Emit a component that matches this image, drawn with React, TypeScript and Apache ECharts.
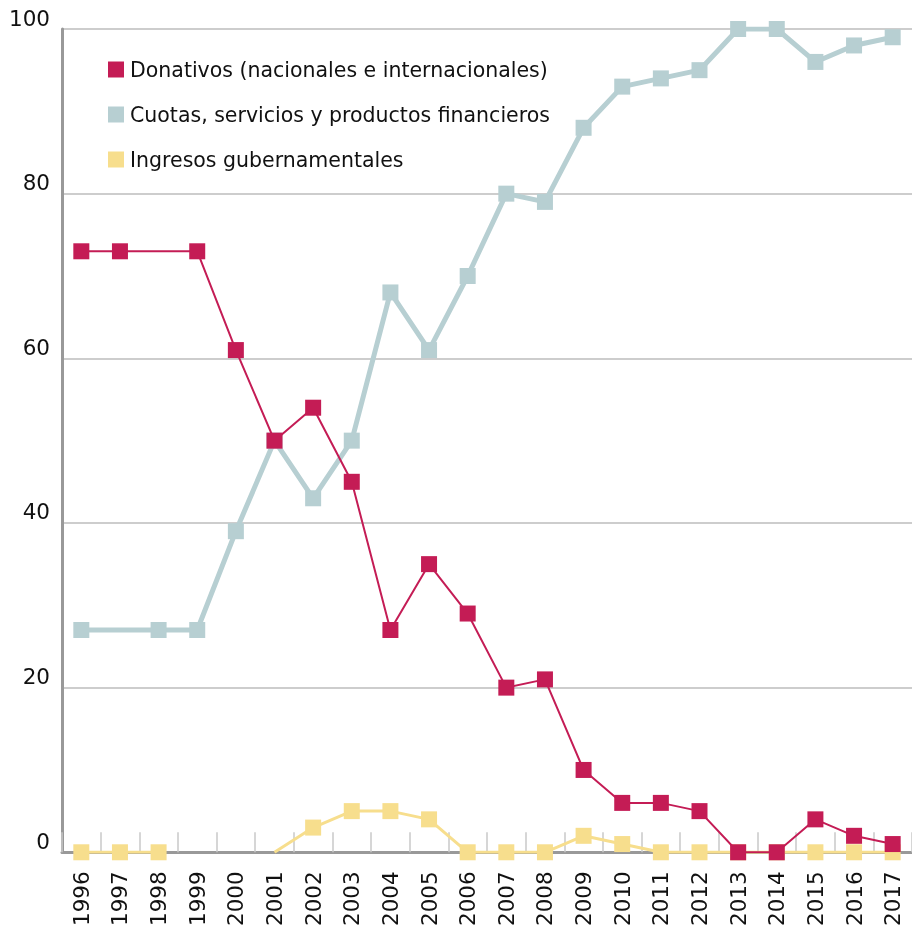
import React, { useEffect, useRef } from "react";
import * as echarts from "echarts";

const years = ["1996","1997","1998","1999","2000","2001","2002","2003","2004","2005","2006","2007","2008","2009","2010","2011","2012","2013","2014","2015","2016","2017"];
const donativos = [73,73,73,73,61,50,54,45,27,35,29,20,21,10,6,6,5,0,0,4,2,1];
const cuotas = [27,27,27,27,39,50,43,50,68,61,70,80,79,88,93,94,95,100,100,96,98,99];
const gubernamentales: (number | null)[] = [0,0,0,null,null,0,3,5,5,4,0,0,0,2,1,0,0,0,0,0,0,0];
const yTicks = [0, 20, 40, 60, 80, 100];

// indices drawn without marker in the reference
const noMarkRed = [2];
const noMarkGray = [1];
const noMarkYellow = [5];

const RED = "#C41C55";
const GRAY = "#B7CFD2";
const YELLOW = "#F7DE8D";
const FONT = "DejaVu Sans";

function withMarks(vals: (number | null)[], hidden: number[]) {
  return vals.map((v, i) => (hidden.includes(i) ? { value: v, symbol: "none" } : v));
}

export default function App() {
  const ref = useRef<HTMLDivElement>(null);
  useEffect(() => {
    if (!ref.current) return;
    document.body.style.margin = "0";
    document.body.style.overflow = "hidden";
    const chart = echarts.init(ref.current, null, { renderer: "svg" });
    chart.setOption({
      animation: false,
      textStyle: { fontFamily: FONT },
      legend: {
        orient: "vertical",
        left: 103,
        top: 54,
        icon: "rect",
        itemWidth: 16,
        itemHeight: 16,
        itemGap: 24,
        data: ["Donativos (nacionales e internacionales)", "Cuotas, servicios y productos financieros", "Ingresos gubernamentales"],
        textStyle: { fontFamily: FONT, fontSize: 20.5, color: "#111", padding: [0, 0, 0, 1] },
      },
      grid: { left: 62, right: 0, top: 29, bottom: 74, containLabel: false },
      xAxis: {
        type: "category",
        data: years,
        boundaryGap: true,
        axisLine: { show: true, lineStyle: { color: "#999", width: 3 } },
        axisTick: { show: true, inside: true, length: 20, interval: 0, lineStyle: { color: "#c8c8c8", width: 1.5 } },
        axisLabel: { rotate: 90, interval: 0, fontSize: 21.5, color: "#111", margin: 19, fontFamily: FONT },
        splitLine: { show: false },
      },
      yAxis: {
        type: "value",
        min: yTicks[0],
        max: yTicks[yTicks.length - 1],
        interval: 20,
        axisLine: { show: true, lineStyle: { color: "#999", width: 3 } },
        axisTick: { show: false },
        axisLabel: { fontSize: 21.5, color: "#111", margin: 12, verticalAlign: "bottom", fontFamily: FONT },
        splitLine: { show: true, lineStyle: { color: "#bdbdbd", width: 1.5 } },
      },
      series: [
        {
          name: "Ingresos gubernamentales",
          type: "line",
          data: withMarks(gubernamentales, noMarkYellow),
          symbol: "rect",
          symbolSize: 16,
          connectNulls: false,
          lineStyle: { color: YELLOW, width: 3 },
          itemStyle: { color: YELLOW },
          z: 3,
        },
        {
          name: "Cuotas, servicios y productos financieros",
          type: "line",
          data: withMarks(cuotas, noMarkGray),
          symbol: "rect",
          symbolSize: 16,
          lineStyle: { color: GRAY, width: 5 },
          itemStyle: { color: GRAY },
          z: 4,
        },
        {
          name: "Donativos (nacionales e internacionales)",
          type: "line",
          data: withMarks(donativos, noMarkRed),
          symbol: "rect",
          symbolSize: 16,
          lineStyle: { color: RED, width: 2 },
          itemStyle: { color: RED },
          z: 5,
        },
      ],
    });
    return () => chart.dispose();
  }, []);
  return <div ref={ref} style={{ position: "fixed", left: 0, top: 0, width: 912, height: 929, overflow: "hidden" }} />;
}
